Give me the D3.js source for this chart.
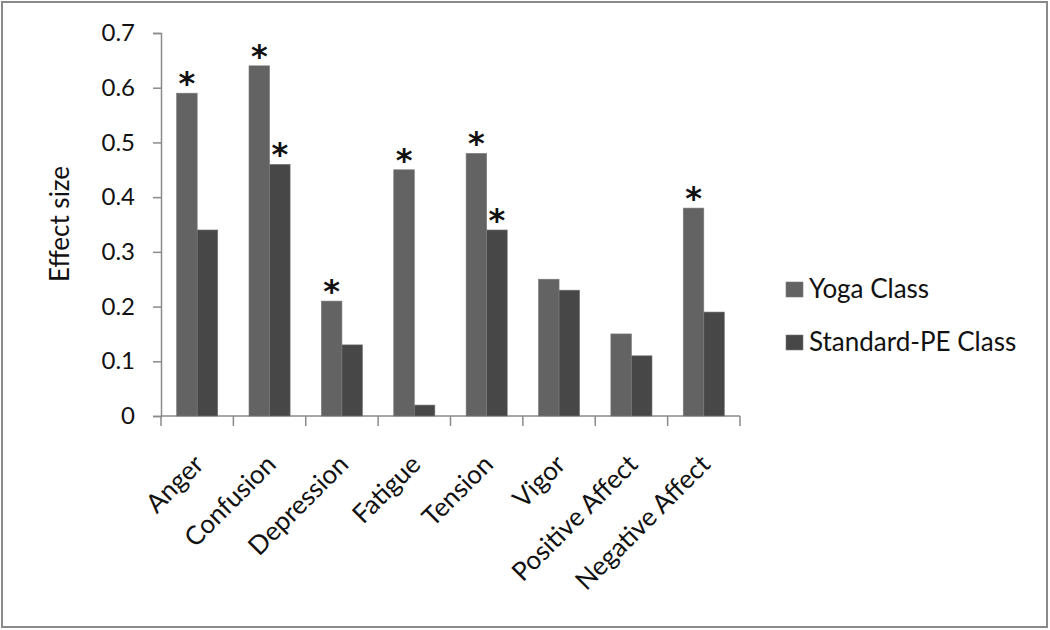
<!DOCTYPE html>
<html>
<head>
<meta charset="utf-8">
<script src="https://cdn.jsdelivr.net/npm/d3@7"></script>
<style>
  body { margin: 0; background: #fff; }
  svg { display: block; font-family: Lato, "Open Sans", sans-serif; }
</style>
</head>
<body>
<svg id="chart" width="1050" height="630"></svg>
<script>
// Data
const categories = ["Anger", "Confusion", "Depression", "Fatigue", "Tension", "Vigor", "Positive Affect", "Negative Affect"];
const seriesNames = ["Yoga Class", "Standard-PE Class"];
const yogaValues = [0.59, 0.64, 0.21, 0.45, 0.48, 0.25, 0.15, 0.38];
const peValues = [0.34, 0.46, 0.13, 0.02, 0.34, 0.23, 0.11, 0.19];
// significance markers (true = asterisk above bar)
const yogaSig = [true, true, true, true, true, false, false, true];
const peSig = [false, true, false, false, true, false, false, false];
const yTicks = [0, 0.1, 0.2, 0.3, 0.4, 0.5, 0.6, 0.7];

const colors = ["#636363", "#474747"];

const svg = d3.select("#chart");

// outer frame
svg.append("rect")
    .attr("x", 2).attr("y", 2)
    .attr("width", 1045).attr("height", 625)
    .attr("fill", "none")
    .attr("stroke", "#8a8a8a")
    .attr("stroke-width", 2);

const margin = { left: 161, right: 740, top: 33, bottom: 416 };

const x = d3.scaleBand()
    .domain(categories)
    .range([margin.left, margin.right])
    .paddingInner(0)
    .paddingOuter(0);

const xSub = d3.scaleBand()
    .domain(seriesNames)
    .range([0, x.bandwidth()])
    .paddingInner(0)
    .paddingOuter(0.76);

const y = d3.scaleLinear()
    .domain([0, 0.7])
    .range([margin.bottom, margin.top]);

// y axis
const yAxis = svg.append("g")
    .attr("transform", `translate(${margin.left},0)`)
    .call(d3.axisLeft(y).tickValues(yTicks).tickFormat(d => d === 0 ? "0" : d3.format(".1f")(d)).tickSize(8).tickPadding(18));
yAxis.select(".domain").attr("stroke", "#8a8a8a").attr("stroke-width", 1.5);
yAxis.selectAll(".tick line").attr("stroke", "#8a8a8a").attr("stroke-width", 1.5);
yAxis.selectAll(".tick text")
    .attr("font-size", 24)
    .attr("fill", "#111")
    .attr("font-family", "Lato, sans-serif");

// x axis (ticks at category boundaries)
const xAxisG = svg.append("g").attr("transform", `translate(0,${margin.bottom})`);
xAxisG.append("line")
    .attr("x1", margin.left).attr("x2", margin.right)
    .attr("stroke", "#8a8a8a").attr("stroke-width", 1.5);
const boundaries = categories.map(c => x(c)).concat([x(categories[categories.length - 1]) + x.bandwidth()]);
xAxisG.selectAll(".bt")
    .data(boundaries)
    .enter()
    .append("line")
    .attr("class", "bt")
    .attr("x1", d => d).attr("x2", d => d)
    .attr("y1", 0).attr("y2", 10)
    .attr("stroke", "#8a8a8a").attr("stroke-width", 1.5);

// category labels rotated
xAxisG.selectAll(".cat")
    .data(categories)
    .enter()
    .append("text")
    .attr("class", "cat")
    .attr("transform", d => `translate(${x(d) + x.bandwidth() / 2 + 8},${50}) rotate(-45)`)
    .attr("text-anchor", "end")
    .attr("font-size", 26)
    .attr("fill", "#111")
    .text(d => d);

// bars
const series = [
  { name: seriesNames[0], values: yogaValues, sig: yogaSig, color: colors[0] },
  { name: seriesNames[1], values: peValues, sig: peSig, color: colors[1] }
];

series.forEach(s => {
    const g = svg.append("g").attr("class", "series");
    g.selectAll("rect")
        .data(categories)
        .enter()
        .append("rect")
        .attr("x", (d) => x(d) + xSub(s.name))
        .attr("y", (d, i) => y(s.values[i]))
        .attr("width", xSub.bandwidth())
        .attr("height", (d, i) => y(0) - y(s.values[i]))
        .attr("fill", s.color)
        .attr("stroke", "#7a7a7a")
        .attr("stroke-width", 0.6);

    g.selectAll(".star")
        .data(categories.filter((d, i) => s.sig[i]))
        .enter()
        .append("text")
        .attr("class", "star")
        .attr("x", d => x(d) + xSub(s.name) + xSub.bandwidth() / 2)
        .attr("y", d => y(s.values[categories.indexOf(d)]) + 1)
        .attr("text-anchor", "middle")
        .attr("font-size", 32)
        .attr("font-weight", "bold")
        .attr("font-family", "DejaVu Sans, sans-serif")
        .attr("fill", "#111")
        .text("*");
});

// y axis title
svg.append("text")
    .attr("transform", `translate(69,224) rotate(-90)`)
    .attr("text-anchor", "middle")
    .attr("font-size", 26)
    .attr("fill", "#111")
    .text("Effect size");

// legend
const legend = svg.append("g").attr("transform", "translate(786,282)");
series.forEach((s, i) => {
    legend.append("rect")
        .attr("x", 0).attr("y", i * 53)
        .attr("width", 17).attr("height", 15)
        .attr("fill", s.color)
        .attr("stroke", "#7a7a7a")
        .attr("stroke-width", 0.6);
    legend.append("text")
        .attr("x", 23).attr("y", i * 53 + 16)
        .attr("font-size", 26)
        .attr("fill", "#111")
        .text(s.name);
});
</script>
</body>
</html>
